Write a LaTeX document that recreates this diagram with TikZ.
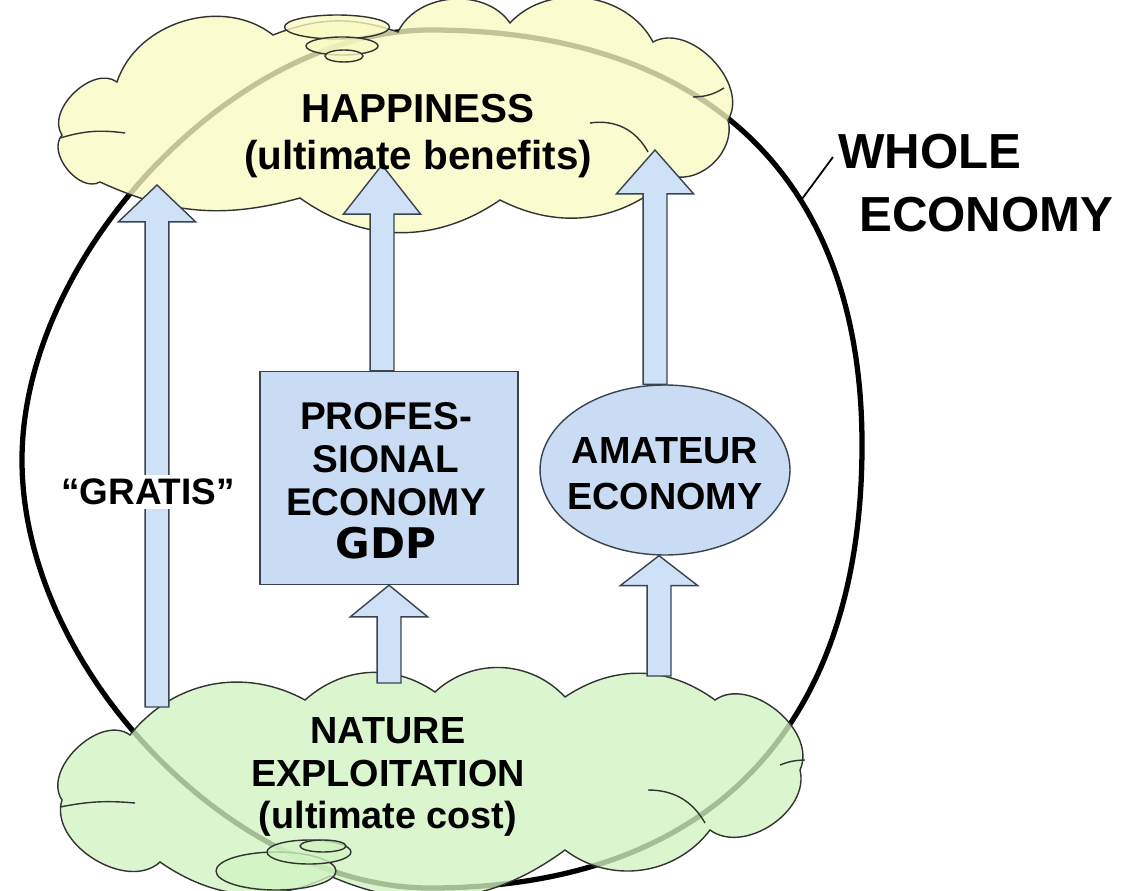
\documentclass[tikz,border=0pt]{standalone}
\usepackage{fontspec}
\setmainfont{Liberation Sans}
\newfontfamily\dejavu{DejaVu Sans}
\usetikzlibrary{shapes.geometric,calc}
\definecolor{arrfill}{HTML}{CFE1F6}
\definecolor{arrline}{HTML}{3A4450}
\definecolor{boxfill}{HTML}{C9DCF3}
\definecolor{yel}{HTML}{FAFAC4}
\definecolor{grn}{HTML}{D2F4C2}
\newcommand{\blockarr}[3]{%
  \draw[blockarrow] let \p1=(#1), \p2=(#2) in
   (\x1-6.8pt,\y1) -- (\x1-6.8pt,\y2-#3) -- (\x1-22pt,\y2-#3) -- (\x1,\y2)
   -- (\x1+22pt,\y2-#3) -- (\x1+6.8pt,\y2-#3) -- (\x1+6.8pt,\y1) -- cycle;}
\begin{document}
\begin{tikzpicture}[x=0.02cm,y=-0.02cm,
  blockarrow/.style={fill=arrfill,draw=arrline,line width=0.8pt,line join=miter},
  cloudline/.style={draw=black!80,line width=0.8pt},
  topcloud/.style={cloudline,fill=yel,fill opacity=0.78},
  botcloud/.style={cloudline,fill=grn,fill opacity=0.78},
  bigtext/.style={font=\bfseries\fontsize{23}{27}\selectfont,align=center,inner sep=0pt},
  midtext/.style={font=\bfseries\fontsize{22}{24.5}\selectfont,align=center,inner sep=0pt},
  econbox/.style={draw=arrline,line width=0.8pt,fill=boxfill},
]
\useasboundingbox (0,0) rectangle (1124,891);
\fill[white] (0,0) rectangle (1124,891);

% whole economy outline
\draw[line width=3pt] (430,30) .. controls (698,30) and (862,170) .. (862,445)
  .. controls (862,730) and (708,888) .. (430,888)
  .. controls (235,888) and (22,670) .. (22,460)
  .. controls (22,255) and (235,30) .. (430,30) -- cycle;

% top cloud
\path[topcloud] (100,182) to[bend left=80] (62,135) to[bend left=80] (117,82)
  to[bend left=55] (273,35) to[bend left=20] (398,32) to[bend left=60] (510,23)
  to[bend left=55] (653,42) to[bend left=75] (728,120) to[bend left=60] (672,176)
  to[bend left=35] (500,200) to[bend left=35] (300,198) to[bend left=20] (100,182) -- cycle;
\draw[cloudline] (60,138) to[bend left=12] (125,133);
\draw[cloudline] (590,123) to[bend left=35] (648,152);
\draw[cloudline] (693,97) to[bend right=15] (724,88);
\path[topcloud] (337,27) ellipse [x radius=1.05cm, y radius=0.24cm];
\path[topcloud] (342,46) ellipse [x radius=0.72cm, y radius=0.18cm];
\path[topcloud] (344,56) ellipse [x radius=0.38cm, y radius=0.12cm];

% bottom cloud
\path[botcloud] (160,862) to[bend left=75] (62,800) to[bend left=80] (130,735)
  to[bend left=40] (305,700) to[bend left=38] (435,692) to[bend left=45] (565,697)
  to[bend left=35] (715,700) to[bend left=75] (800,770) to[bend left=70] (710,830)
  to[bend left=45] (565,850) to[bend left=30] (330,876) to[bend left=30] (160,862) -- cycle;
\draw[cloudline] (60,807) to[bend left=8] (135,803);
\draw[cloudline] (648,790) to[bend left=30] (705,823);
\draw[cloudline] (780,765) to[bend left=10] (805,760);
\path[botcloud] (276,871) ellipse [x radius=1.2cm, y radius=0.38cm];
\path[botcloud] (309,852) ellipse [x radius=0.84cm, y radius=0.24cm];
\path[botcloud] (323,846) ellipse [x radius=0.46cm, y radius=0.12cm];

% economy nodes
\node[econbox,minimum width=5.16cm,minimum height=4.26cm,inner sep=0pt] (prof) at (389,478) {};
\node[midtext] (proftext) at (386,481) {PROFES-\\SIONAL\\ECONOMY\\{\dejavu\fontsize{24}{24.5}\selectfont GDP}};
\node[econbox,ellipse,minimum width=5cm,minimum height=3.4cm,inner sep=0pt] (amat) at (665,470) {};
\node[midtext,font=\bfseries\fontsize{21.5}{26}\selectfont] (amattext) at (665,474) {AMATEUR\\ECONOMY};

% arrow end coordinates at the clouds
\coordinate (gratisbase) at (157,707);
\coordinate (gratistip) at (157,185);
\coordinate (proftip) at (382,165);
\coordinate (amattip) at (655,150);
\coordinate (profbase) at (389,683);
\coordinate (amatbase) at (659,676);

\blockarr{gratisbase}{gratistip}{21pt}
\blockarr{[xshift=-0.14cm]prof.north}{proftip}{28pt}
\blockarr{[xshift=-0.2cm]amat.north}{amattip}{25pt}
\blockarr{profbase}{prof.south}{18pt}
\blockarr{amatbase}{amat.south}{17pt}

% cloud texts
\node[bigtext] (happy) at (418,136) {HAPPINESS\\(ultimate benefits)};
\node[midtext,font=\bfseries\fontsize{21.5}{24}\selectfont] (nature) at (388,777) {NATURE\\EXPLOITATION\\(ultimate cost)};

% gratis label
\node[fill=white,inner sep=2pt,font=\bfseries\fontsize{21}{24}\selectfont] (gratis) at (148,492) {“GRATIS”};

% whole economy label
\node[anchor=north west,align=left,inner sep=0pt,font=\bfseries\fontsize{28}{36}\selectfont] (whole) at (838,134) {WHOLE\\\hspace*{0.42cm}ECONOMY};
\coordinate (wholeptr) at (802,199);
\draw[line width=1pt] ([xshift=-0.1cm,yshift=-0.46cm]whole.north west) -- (wholeptr);
\end{tikzpicture}
\end{document}
